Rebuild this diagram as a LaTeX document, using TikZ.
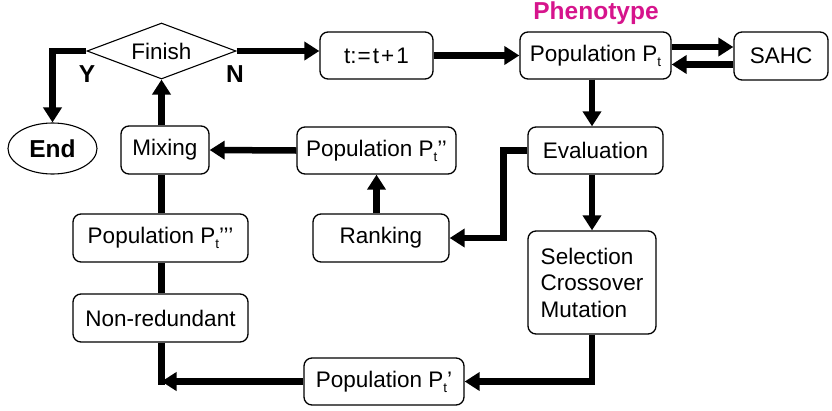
\documentclass[tikz,border=0pt]{standalone}
\usepackage{fontspec}
\setmainfont{Liberation Sans}
\usetikzlibrary{arrows.meta,shapes.geometric}
\definecolor{pheno}{RGB}{214,20,140}
\newcommand\subt{\raisebox{-5pt}{\fontsize{13.5}{13.5}\selectfont t}}
\begin{document}
\begin{tikzpicture}[x=1pt,y=-1pt,
  every node/.style={font=\fontsize{22.5}{26.5}\selectfont, inner sep=0pt},
  box/.style={draw, line width=1.3pt, rounded corners=8pt},
  flow/.style={line width=6.5pt, -{Triangle[width=18pt,length=15pt]}},
  link/.style={line width=6.5pt},
  lab/.style={font=\fontsize{24.5}{26.5}\selectfont\bfseries}]
\useasboundingbox (0,0) rectangle (832,410);

\node[draw, line width=1.1pt, shape=diamond, aspect=2.66, minimum width=149pt, minimum height=56pt] (finish) at (161.5,51) {Finish};
\node[box, minimum width=113pt, minimum height=47pt] (tbox) at (376.5,55.5) {t:\hspace{1pt}=\hspace{2pt}t\hspace{2pt}+\hspace{2pt}1};
\node[box, minimum width=151pt, minimum height=47pt] (popt) at (595.5,55.5) {Population P\subt};
\node[box, minimum width=94pt, minimum height=48pt] (sahc) at (781,56) {SAHC};
\node[draw, line width=1.1pt, ellipse, minimum width=89pt, minimum height=51pt, font=\fontsize{24.5}{26.5}\selectfont\bfseries] (end) at (52.5,148.5) {End};
\node[box, minimum width=88pt, minimum height=48pt] (mixing) at (165,150) {Mixing};
\node[box, minimum width=159pt, minimum height=47pt] (popt2) at (376.5,150.5) {Population P\subt’’};
\node[box, minimum width=135pt, minimum height=47pt] (eval) at (595.5,150.5) {Evaluation};
\node[box, minimum width=175pt, minimum height=48pt] (popt3) at (160.5,238) {Population P\subt’’’};
\node[box, minimum width=136pt, minimum height=48pt] (ranking) at (381,238) {Ranking};
\node[box, minimum width=175pt, minimum height=48pt] (nonred) at (160.5,318) {Non-redundant};
\node[box, minimum width=128pt, minimum height=103pt, align=left] (sel) at (592,282.5) {Selection\\Crossover\\Mutation};
\node[box, minimum width=160pt, minimum height=47pt] (popt1) at (384,381.5) {Population P\subt’};

\node[lab, text=pheno] (pheno) at (596,13) {Phenotype};
\node[lab] (ylab) at (87,74) {Y};
\node[lab] (nlab) at (235,74) {N};

\coordinate (corner) at (nonred.south |- popt1.west);

\draw[flow] (finish.west) -| (end.north);
\draw[flow] (finish.east) -- (finish.east -| tbox.west);
\draw[flow] (tbox.east) -- (popt.west);
\draw[flow] ([yshift=8.5pt]popt.east) -- ([yshift=8.5pt]popt.east -| sahc.west);
\draw[flow] ([yshift=-8.5pt]sahc.west) -- ([yshift=-8.5pt]sahc.west -| popt.east);
\draw[flow] (popt.south -| sel.north) -- (eval.north -| sel.north);
\draw[flow] (eval.south -| sel.north) -- (sel.north);
\draw[flow] (sel.south) |- (popt1.east);
\draw[flow] (eval.west) -- ++(-24,0) |- (ranking.east);
\draw[flow] (ranking.north -| popt2.south) -- (popt2.south);
\draw[flow] (popt2.west) -- (mixing.east);
\draw[flow] (mixing.north -| finish.south) -- (finish.south);
\draw[link] (popt3.north -| finish.south) -- (mixing.south -| finish.south);
\draw[link] (nonred.north -| finish.south) -- (popt3.south -| finish.south);
\draw[link] (nonred.south -| finish.south) -- ([yshift=-3.25pt]corner -| finish.south);
\draw[flow] (popt1.west) -- (corner -| finish.south);
\end{tikzpicture}
\end{document}
